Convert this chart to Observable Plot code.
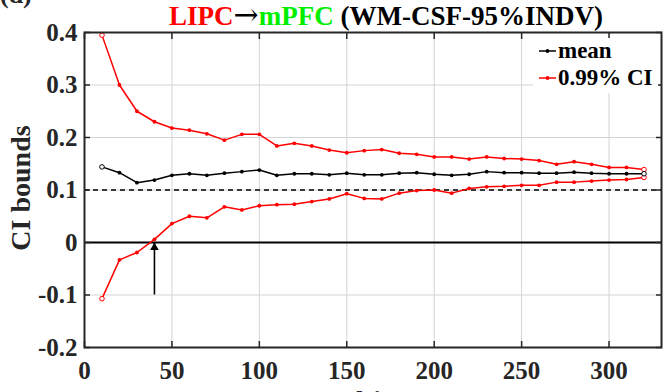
<!DOCTYPE html>
<html>
<head>
<meta charset="utf-8">
<script src="https://cdn.jsdelivr.net/npm/d3@7"></script>
<script src="https://cdn.jsdelivr.net/npm/@observablehq/plot@0.6"></script>
<style>
  html, body { margin: 0; padding: 0; background: #fff; }
  #chart { width: 666px; height: 392px; overflow: hidden; }
</style>
</head>
<body>
<div id="chart"></div>
<script>
// ---- data ----
const subjects = [10,20,30,40,50,60,70,80,90,100,110,120,130,140,150,160,170,180,190,200,210,220,230,240,250,260,270,280,290,300,310,320];
const upperCI  = [0.395,0.300,0.250,0.230,0.218,0.214,0.207,0.195,0.206,0.206,0.184,0.189,0.184,0.176,0.171,0.175,0.177,0.170,0.168,0.163,0.163,0.159,0.163,0.160,0.159,0.156,0.149,0.154,0.149,0.143,0.143,0.139];
const meanVals = [0.144,0.133,0.114,0.119,0.128,0.131,0.128,0.132,0.135,0.138,0.128,0.131,0.131,0.129,0.132,0.129,0.129,0.132,0.133,0.130,0.128,0.130,0.135,0.133,0.133,0.132,0.132,0.134,0.132,0.131,0.131,0.131];
const lowerCI  = [-0.107,-0.033,-0.019,0.006,0.036,0.050,0.047,0.068,0.062,0.070,0.072,0.073,0.078,0.083,0.093,0.084,0.083,0.094,0.099,0.100,0.094,0.103,0.106,0.107,0.109,0.109,0.115,0.115,0.117,0.119,0.120,0.124];
const xTicks = [0,50,100,150,200,250,300];
const yTicks = [-0.2,-0.1,0,0.1,0.2,0.3,0.4];
const refSolid = [0];
const refDashed = [0.1];
const arrowX = [40], arrowFrom = [-0.1], arrowTo = [0];
const titleParts = [
  {text: "LIPC", color: "#ff0000"},
  {text: "\u2192", color: "#000000", arrow: true},
  {text: "mPFC", color: "#00ee00"},
  {text: " (WM-CSF-95%INDV)", color: "#000000"}
];
const legendItems = [
  {label: "mean", color: "#000000"},
  {label: "0.99% CI", color: "#ff0000"}
];
const yLabel = "CI bounds";
const xLabel = "subjects";
const panelLabel = "(d)";

// ---- build tables ----
const toRows = vals => subjects.map((s, i) => ({x: s, y: vals[i]}));
const upperRows = toRows(upperCI), meanRows = toRows(meanVals), lowerRows = toRows(lowerCI);
const ends = rows => [rows[0], rows[rows.length - 1]];
const mids = rows => rows.slice(1, -1);

const FONT = "'Liberation Serif', 'Times New Roman', serif";
const fmtY = d => d === 0 ? "0" : (d < 0 ? "-" : "") + Math.abs(d).toFixed(1);
const RED = "#ff0000";

const plot = Plot.plot({
  width: 666,
  height: 392,
  marginLeft: 84,
  marginRight: 5,
  marginTop: 32,
  marginBottom: 45,
  style: {fontFamily: FONT, fontWeight: "bold", fontSize: "25px", color: "#262626", background: "#fff", overflow: "visible"},
  x: {domain: [0, 330]},
  y: {domain: [-0.2, 0.4]},
  marks: [
    Plot.gridX(xTicks, {stroke: "#d4d4d4", strokeOpacity: 1, strokeWidth: 1}),
    Plot.gridY(yTicks, {stroke: "#d4d4d4", strokeOpacity: 1, strokeWidth: 1}),
    Plot.ruleY(refSolid, {stroke: "#000", strokeWidth: 2}),
    Plot.ruleY(refDashed, {stroke: "#000", strokeWidth: 1.3, strokeDasharray: "5,4"}),
    // arrow
    Plot.ruleX(arrowX, {x: d => d, y1: arrowFrom[0], y2: arrowTo[0], stroke: "#000", strokeWidth: 1.6}),
    Plot.dot(arrowX, {x: d => d, y: arrowTo[0], symbol: "triangle", r: 3.2, fill: "#000", stroke: "none", dy: 5}),
    // series
    Plot.line(upperRows, {x: "x", y: "y", stroke: RED, strokeWidth: 1.5}),
    Plot.line(lowerRows, {x: "x", y: "y", stroke: RED, strokeWidth: 1.5}),
    Plot.line(meanRows, {x: "x", y: "y", stroke: "#000", strokeWidth: 1.5}),
    Plot.dot(mids(upperRows), {x: "x", y: "y", r: 1.9, fill: RED}),
    Plot.dot(mids(lowerRows), {x: "x", y: "y", r: 1.9, fill: RED}),
    Plot.dot(mids(meanRows), {x: "x", y: "y", r: 1.9, fill: "#000"}),
    Plot.dot(ends(upperRows), {x: "x", y: "y", r: 2.3, stroke: RED, fill: "#fff", strokeWidth: 1}),
    Plot.dot(ends(lowerRows), {x: "x", y: "y", r: 2.3, stroke: RED, fill: "#fff", strokeWidth: 1}),
    Plot.dot(ends(meanRows), {x: "x", y: "y", r: 2.3, stroke: "#000", fill: "#fff", strokeWidth: 1}),
    // axes: labels
    Plot.axisX(xTicks, {anchor: "bottom", tickSize: 0, tickPadding: 14, label: null, fontSize: 25, fontWeight: "bold", fill: "#262626"}),
    Plot.axisY(yTicks, {anchor: "left", tickSize: 0, tickPadding: 7, tickFormat: fmtY, label: null, fontSize: 25, fontWeight: "bold", fill: "#262626"}),
    // axes: inward ticks on all sides
    Plot.axisX(xTicks, {anchor: "bottom", tickSize: -6, text: null, label: null, stroke: "#262626", strokeWidth: 1.5}),
    Plot.axisX(xTicks, {anchor: "top", tickSize: -6, text: null, label: null, stroke: "#262626", strokeWidth: 1.5}),
    Plot.axisY(yTicks, {anchor: "left", tickSize: -6, text: null, label: null, stroke: "#262626", strokeWidth: 1.5}),
    Plot.axisY(yTicks, {anchor: "right", tickSize: -6, text: null, label: null, stroke: "#262626", strokeWidth: 1.5}),
    Plot.frame({stroke: "#262626", strokeWidth: 2})
  ]
});
document.getElementById("chart").appendChild(plot);

// ---- annotations: title, legend, axis labels ----
const svg = d3.select(plot);
const title = svg.append("text")
  .attr("x", 386).attr("y", 25)
  .attr("text-anchor", "middle")
  .style("font-family", FONT).style("font-weight", "bold").style("font-size", "27px");
titleParts.forEach(p => {
  const t = title.append("tspan").text(p.text).attr("fill", p.color);
  if (p.arrow) t.style("font-family", "'DejaVu Serif', serif").style("font-weight", "normal").style("font-size", "30px");
});

svg.append("text").text(panelLabel)
  .attr("x", 0).attr("y", 3)
  .attr("text-anchor", "start")
  .attr("fill", "#262626")
  .style("font-family", FONT).style("font-weight", "bold").style("font-size", "26px");

svg.append("text").text(yLabel)
  .attr("transform", "translate(30,188) rotate(-90)")
  .attr("text-anchor", "middle").attr("fill", "#262626")
  .style("font-family", FONT).style("font-weight", "bold").style("font-size", "28px");

svg.append("text").text(xLabel)
  .attr("x", 378).attr("y", 410)
  .attr("text-anchor", "middle").attr("fill", "#262626")
  .style("font-family", FONT).style("font-weight", "bold").style("font-size", "28px");

// legend
const lg = svg.append("g");
lg.append("rect").attr("x", 533).attr("y", 38).attr("width", 125).attr("height", 55).attr("fill", "#fff");
legendItems.forEach((it, i) => {
  const cy = 51 + i * 27;
  lg.append("line").attr("x1", 539).attr("x2", 556).attr("y1", cy).attr("y2", cy)
    .attr("stroke", it.color).attr("stroke-width", 1.5);
  lg.append("circle").attr("cx", 547.5).attr("cy", cy).attr("r", 1.9).attr("fill", it.color);
  lg.append("text").text(it.label)
    .attr("x", 558).attr("y", cy + 7)
    .attr("text-anchor", "start")
    .attr("fill", "#000")
    .style("font-family", FONT).style("font-weight", "bold").style("font-size", "23px");
});
</script>
</body>
</html>
